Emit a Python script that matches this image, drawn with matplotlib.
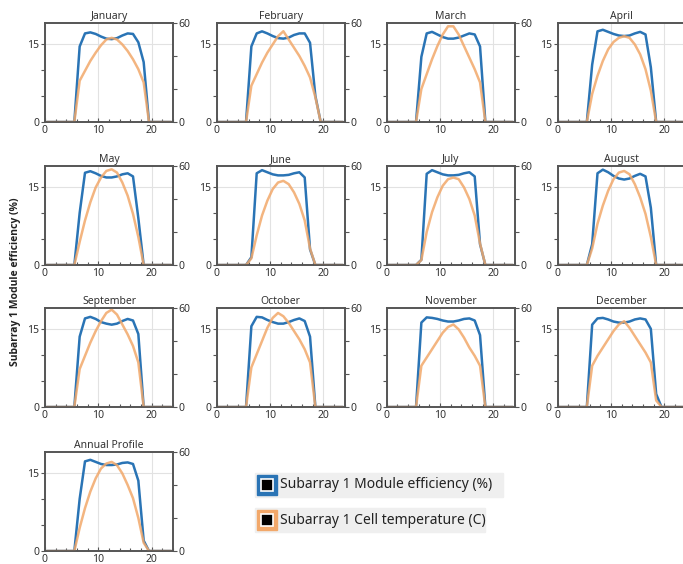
import matplotlib.pyplot as plt
import numpy as np

# hour of day (plotted at the middle of each hour)
hours = np.arange(24) + 0.5

months = ['January', 'February', 'March', 'April', 'May', 'June', 'July',
          'August', 'September', 'October', 'November', 'December', 'Annual Profile']

# Subarray 1 Module efficiency (%), hours 0..23
eff_jan = [0, 0, 0, 0, 0, 0, 14.5, 17.0, 17.2, 16.9, 16.4, 16.0, 15.9, 16.1, 16.6, 17.0, 16.9, 15.3, 11.5, 0, 0, 0, 0, 0]
eff_feb = [0, 0, 0, 0, 0, 0, 14.5, 17.0, 17.4, 17.0, 16.5, 16.1, 16.0, 16.2, 16.7, 17.0, 17.0, 15.2, 5.0, 0, 0, 0, 0, 0]
eff_mar = [0, 0, 0, 0, 0, 0, 12.5, 17.0, 17.3, 16.8, 16.3, 16.0, 16.0, 16.2, 16.6, 17.0, 16.8, 14.5, 0, 0, 0, 0, 0, 0]
eff_apr = [0, 0, 0, 0, 0, 0, 11.0, 17.4, 17.7, 17.3, 16.9, 16.6, 16.5, 16.6, 17.0, 17.3, 16.8, 10.5, 0, 0, 0, 0, 0, 0]
eff_may = [0, 0, 0, 0, 0, 0, 10.0, 17.7, 18.0, 17.6, 17.1, 16.8, 16.8, 17.0, 17.4, 17.6, 17.0, 9.0, 0, 0, 0, 0, 0, 0]
eff_jun = [0, 0, 0, 0, 0, 0, 1.5, 17.6, 18.2, 17.8, 17.4, 17.2, 17.2, 17.3, 17.6, 17.8, 16.8, 3.0, 0, 0, 0, 0, 0, 0]
eff_jul = [0, 0, 0, 0, 0, 0, 1.0, 17.5, 18.2, 17.8, 17.4, 17.2, 17.2, 17.3, 17.6, 17.8, 17.0, 4.0, 0, 0, 0, 0, 0, 0]
eff_aug = [0, 0, 0, 0, 0, 0, 4.0, 17.6, 18.3, 17.8, 17.1, 16.6, 16.4, 16.6, 17.1, 17.5, 17.0, 11.0, 0, 0, 0, 0, 0, 0]
eff_sep = [0, 0, 0, 0, 0, 0, 13.5, 17.0, 17.3, 16.9, 16.3, 16.0, 15.8, 16.0, 16.5, 16.9, 16.6, 14.0, 0, 0, 0, 0, 0, 0]
eff_oct = [0, 0, 0, 0, 0, 0, 15.5, 17.3, 17.2, 16.7, 16.3, 16.0, 16.0, 16.3, 16.7, 17.0, 16.5, 13.5, 0, 0, 0, 0, 0, 0]
eff_nov = [0, 0, 0, 0, 0, 0, 16.2, 17.2, 17.1, 16.9, 16.6, 16.4, 16.4, 16.6, 16.9, 17.0, 16.6, 13.8, 0, 0, 0, 0, 0, 0]
eff_dec = [0, 0, 0, 0, 0, 0, 15.8, 17.0, 17.1, 16.8, 16.4, 16.2, 16.2, 16.4, 16.8, 17.0, 16.8, 15.0, 2.5, 0, 0, 0, 0, 0]
eff_ann = [0, 0, 0, 0, 0, 0, 10.0, 17.2, 17.5, 17.1, 16.7, 16.5, 16.5, 16.6, 16.9, 17.0, 16.7, 13.5, 2.0, 0, 0, 0, 0, 0]

# Subarray 1 Cell temperature (C), hours 0..23
temp_jan = [0, 0, 0, 0, 0, 0, 25, 31, 37, 42, 46.5, 50, 51, 50, 47, 43, 38, 32, 24, 0, 0, 0, 0, 0]
temp_feb = [0, 0, 0, 0, 0, 0, 22, 29, 36, 42, 47, 52, 55, 50, 45, 40, 34, 27, 15, 0, 0, 0, 0, 0]
temp_mar = [0, 0, 0, 0, 0, 0, 20, 29, 38, 46, 53, 58, 58, 53, 46, 39, 32, 24, 0, 0, 0, 0, 0, 0]
temp_apr = [0, 0, 0, 0, 0, 0, 17, 28, 37, 44, 48.5, 51, 52, 51, 47, 41, 32, 19, 0, 0, 0, 0, 0, 0]
temp_may = [0, 0, 0, 0, 0, 0, 14, 27, 38, 47, 53, 57, 58, 56, 50, 42, 31, 17, 0, 0, 0, 0, 0, 0]
temp_jun = [0, 0, 0, 0, 0, 0, 4, 18, 30, 39, 46, 50, 51, 49, 44, 37, 27, 10, 0, 0, 0, 0, 0, 0]
temp_jul = [0, 0, 0, 0, 0, 0, 3, 20, 32, 41, 48, 52, 53, 52, 47, 40, 30, 13, 0, 0, 0, 0, 0, 0]
temp_aug = [0, 0, 0, 0, 0, 0, 10, 25, 36, 45, 52, 56, 57, 55, 49, 41, 31, 17, 0, 0, 0, 0, 0, 0]
temp_sep = [0, 0, 0, 0, 0, 0, 23, 31, 39, 46, 52, 57, 59, 56, 50, 44, 37, 27, 0, 0, 0, 0, 0, 0]
temp_oct = [0, 0, 0, 0, 0, 0, 24, 32, 40, 48, 54, 57, 55, 51, 46, 41, 35, 27, 0, 0, 0, 0, 0, 0]
temp_nov = [0, 0, 0, 0, 0, 0, 25, 30, 35, 40, 45, 48.5, 50, 47, 42, 36, 31, 25, 0, 0, 0, 0, 0, 0]
temp_dec = [0, 0, 0, 0, 0, 0, 25, 31, 36, 41, 46, 50, 52, 48, 43, 38, 33, 27, 4, 0, 0, 0, 0, 0]
temp_ann = [0, 0, 0, 0, 0, 0, 14, 26, 36, 44, 50, 53, 54, 52, 47, 40, 32, 20, 5, 0, 0, 0, 0, 0]

effs = [eff_jan, eff_feb, eff_mar, eff_apr, eff_may, eff_jun, eff_jul,
        eff_aug, eff_sep, eff_oct, eff_nov, eff_dec, eff_ann]
temps = [temp_jan, temp_feb, temp_mar, temp_apr, temp_may, temp_jun, temp_jul,
         temp_aug, temp_sep, temp_oct, temp_nov, temp_dec, temp_ann]

label_eff = 'Subarray 1 Module efficiency (%)'
label_temp = 'Subarray 1 Cell temperature (C)'

blue = '#2a74b5'
orange = '#f2a86a'
spine_col = '#555555'
txt_col = '#333333'

plt.rcParams['font.family'] = ['Noto Sans', 'DejaVu Sans']

W, H = 683, 564
fig = plt.figure(figsize=(W / 100, H / 100), dpi=100)

col_left = [45, 216.7, 386.7, 557.5]
row_top = [23, 166, 308, 452]
ax_w, ax_h = 128, 99

for i, name in enumerate(months):
    r, c = divmod(i, 4)
    ax = fig.add_axes([col_left[c] / W, 1 - (row_top[r] + ax_h) / H, ax_w / W, ax_h / H])
    ax2 = ax.twinx()

    ax.plot(hours, effs[i], color=blue, lw=1.8)
    ax2.plot(hours, temps[i], color=orange, lw=1.8, alpha=0.85)

    ax.set_xlim(0, 24)
    ax.set_ylim(0, 19)
    ax2.set_ylim(0, 60)
    ax.set_xticks([0, 10, 20])
    ax.set_xticks(np.arange(0, 25, 2), minor=True)
    ax.set_yticks([0, 15])
    ax.set_yticks([5, 10], minor=True)
    ax2.set_yticks([0, 60])
    ax2.set_yticks([20, 40], minor=True)

    ax.grid(True, which='major', color='#e2e2e2', lw=0.8)
    ax.set_axisbelow(True)

    ax.tick_params(axis='x', which='both', direction='in', colors=spine_col, labelcolor=txt_col,
                   labelsize=7.5, pad=2)
    ax.tick_params(axis='x', which='major', length=3, width=0.8)
    ax.tick_params(axis='x', which='minor', length=2, width=0.8)
    ax.tick_params(axis='y', which='both', direction='out', colors=spine_col, labelcolor=txt_col,
                   labelsize=7.5, pad=1, length=3, width=0.8)
    ax2.tick_params(axis='y', which='both', direction='out', colors=spine_col, labelcolor=txt_col,
                    labelsize=7.5, pad=1, length=3, width=0.8)
    if c == 3:
        # the right axis of the last column runs past the picture edge
        ax2.tick_params(axis='y', labelright=False)

    for a in (ax, ax2):
        for s in a.spines.values():
            s.set_color(spine_col)
            s.set_linewidth(1.2)
            s.set_zorder(5)

    ax.set_title(name, fontsize=7.5, color=txt_col, pad=3)

fig.text(0.022, 0.5, label_eff, rotation=90, fontsize=7.5, fontweight='bold',
         family=['Open Sans', 'DejaVu Sans'], ha='center', va='center', color='#222222')

# legend drawn by hand
entries = [(label_eff, blue, 473, 255, 503), (label_temp, orange, 508, 255, 485)]
for text, col, top, x0, x1 in entries:
    fig.patches.append(plt.Rectangle((x0 / W, 1 - (top + 24) / H), (x1 - x0) / W, 24 / H,
                                     transform=fig.transFigure, color='#efefef', zorder=0))
    fig.patches.append(plt.Rectangle((257 / W, 1 - (top + 22) / H), 20 / W, 20 / H,
                                     transform=fig.transFigure, color=col, zorder=1))
    fig.patches.append(plt.Rectangle((261 / W, 1 - (top + 17.5) / H), 12 / W, 12 / H,
                                     transform=fig.transFigure, facecolor='black',
                                     edgecolor='white', lw=1.2, zorder=2))
    fig.text(280 / W, 1 - (top + 12) / H, text, fontsize=10, color='#222222', va='center')

plt.savefig('out.png', dpi=100)
